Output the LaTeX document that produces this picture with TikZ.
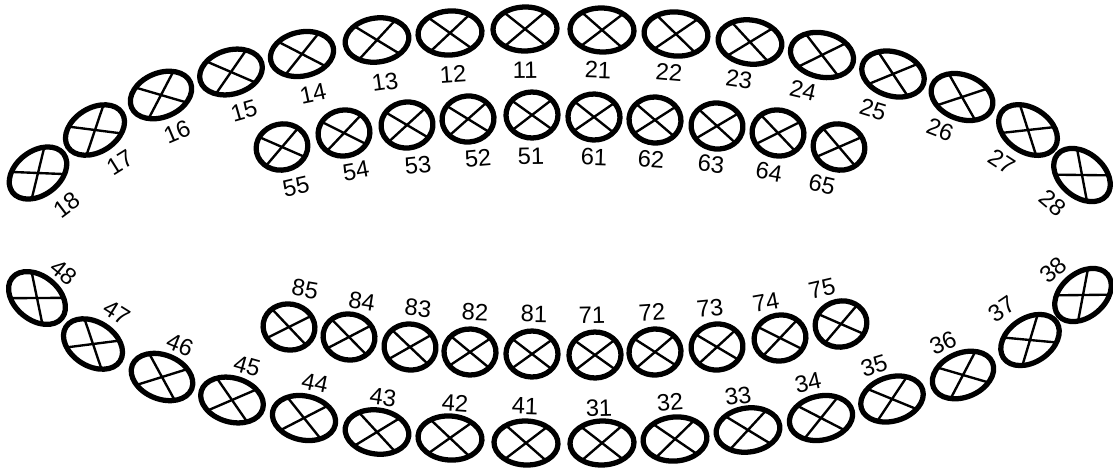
\documentclass[tikz,border=0pt]{standalone}
\usepackage{fontspec}
\setmainfont{Liberation Sans}
\usepackage{tikz}
\usetikzlibrary{positioning}

\tikzset{
  pics/tooth/.style 2 args={code={
    \draw[crossline] (-#1*0.643,-#2*0.766) -- (#1*0.643,#2*0.766)
                     (-#1*0.643,#2*0.766) -- (#1*0.643,-#2*0.766);
    \draw[toothring] (0,0) ellipse [x radius=#1, y radius=#2];
  }},
  pics/milktooth/.style 2 args={code={
    \draw[crossline] (-#1*0.766,-#2*0.643) -- (#1*0.766,#2*0.643)
                     (-#1*0.766,#2*0.643) -- (#1*0.766,-#2*0.643);
    \draw[toothring] (0,0) ellipse [x radius=#1, y radius=#2];
  }},
}

\begin{document}
\begin{tikzpicture}[x=0.02cm,y=-0.02cm,line cap=round,line join=round,
  toothring/.style={line width=3pt},
  crossline/.style={line width=1.35pt},
  num/.style={inner sep=0pt,font=\fontsize{13.5}{14}\selectfont}]
\useasboundingbox (0,0) rectangle (1113,468);
\fill[white] (0,0) rectangle (1113,468);

% upper permanent arch
\foreach \tn/\x/\y/\a/\u/\v in {18/38/173/37/67/205, 17/95/130/32/120/163,
  16/161/95/23/177/132, 15/231/72/16/244/111, 14/302/54/12/313/94,
  13/377/40/8/385/82, 12/450/33/4/453/74, 11/525/29/1/525/70,
  21/602/30/-2/598/70, 22/676/34/-5/669/72, 23/750/42/-8/739/79,
  24/822/55/-13/803/90, 25/893/74/-17/873/110, 26/962/97/-21/940/130,
  27/1028/130/-33/1002/162, 28/1082/175/-40/1053/203}
{
  \pic[rotate=\a] (t\tn) at (\x,\y) {tooth={32}{22}};
  \node[num,rotate=\a] (l\tn) at (\u,\v) {\tn};
}

% upper milk teeth
\foreach \tn/\x/\y/\a/\u/\v in {55/282/147/13/296/187, 54/344/133/10/356/171,
  53/407/125/6/418/165, 52/468/119/5/478/158, 51/532/115/1/531/156,
  61/594/117/-2/594/157, 62/655/120/-4/651/159, 63/717/126/-6/711/164,
  64/778/133/-10/769/172, 65/839/147/-13/822/185}
{
  \pic[rotate=\a] (t\tn) at (\x,\y) {milktooth={26}{23}};
  \node[num,rotate=\a] (l\tn) at (\u,\v) {\tn};
}

% lower milk teeth
\foreach \tn/\x/\y/\a/\u/\v in {85/289/327/-10/305/289, 84/349/337/-9/362/301,
  83/410/347/-7/418/308, 82/470/352/-3/475/312, 81/532/354/-1/534/314,
  71/595/355/1/592/315, 72/655/352/4/652/312, 73/717/347/6/710/308,
  74/780/338/10/766/302, 75/841/324/13/822/289}
{
  \pic[rotate=\a] (t\tn) at (\x,\y) {milktooth={26}{23}};
  \node[num,rotate=\a] (l\tn) at (\u,\v) {\tn};
}

% lower permanent arch
\foreach \tn/\x/\y/\a/\u/\v in {48/37/298/-39/64/272, 47/93/344/-32/117/313,
  46/162/377/-22/180/345, 45/232/400/-16/247/366, 44/304/418/-12/315/383,
  43/377/432/-8/383/397, 42/450/438/-4/455/403, 41/526/443/-2/525/406,
  31/602/443/1.5/599/408, 32/675/439/5/670/402, 33/748/430/8/738/396,
  34/821/418/12/808/383, 35/892/399/17/874/366, 36/963/375/23/943/343,
  37/1030/340/34/1002/309, 38/1083/295/40/1053/270}
{
  \pic[rotate=\a] (t\tn) at (\x,\y) {tooth={32}{22}};
  \node[num,rotate=\a] (l\tn) at (\u,\v) {\tn};
}
\end{tikzpicture}
\end{document}
